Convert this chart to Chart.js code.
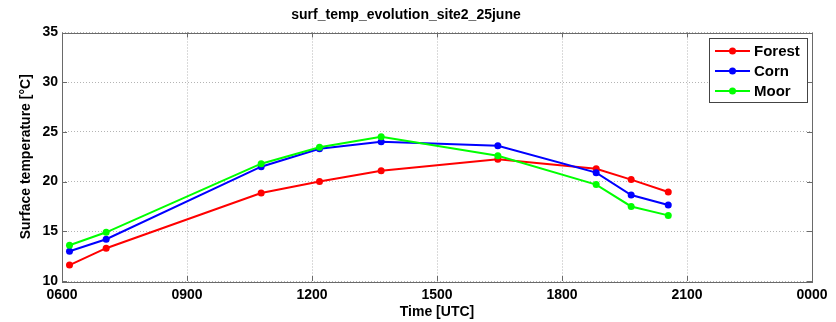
<!DOCTYPE html>
<html>
<head>
<meta charset="utf-8">
<script src="https://cdn.jsdelivr.net/npm/chart.js@4.4.0/dist/chart.umd.min.js"></script>
<style>
html,body{margin:0;padding:0;background:#fff;}
#wrap{width:836px;height:322px;}
</style>
</head>
<body>
<div id="wrap"><canvas id="c" width="836" height="322"></canvas></div>
<script>
const chartTitle = 'surf_temp_evolution_site2_25june';
const xTitle = 'Time [UTC]';
const yTitle = 'Surface temperature [°C]';
const xTickLabels = ['0600','0900','1200','1500','1800','2100','0000'];
const yTickLabels = ['10','15','20','25','30','35'];
const seriesNames = ['Forest','Corn','Moor'];
const seriesColors = ['#ff0000','#0000ff','#00ff00'];
const times = [6.18, 7.06, 10.78, 12.18, 13.66, 16.46, 18.82, 19.66, 20.55];
const forest = [11.6, 13.3, 18.85, 20.0, 21.1, 22.25, 21.3, 20.2, 18.95];
const corn = [13.0, 14.2, 21.5, 23.3, 24.0, 23.6, 20.9, 18.65, 17.65];
const moor = [13.6, 14.9, 21.8, 23.45, 24.5, 22.6, 19.7, 17.5, 16.6];

const seriesValues = [forest, corn, moor];
const FONT = '"Liberation Sans", Arial, Helvetica, sans-serif';

const datasets = seriesValues.map((vals, i) => ({
  label: seriesNames[i],
  data: vals.map((v, j) => ({x: times[j], y: v})),
  borderColor: seriesColors[i],
  backgroundColor: seriesColors[i],
  borderWidth: 2,
  pointRadius: 3.5,
  pointBorderWidth: 0,
  pointHoverRadius: 3.5,
  tension: 0,
  order: seriesNames.length - 1 - i
}));

const framePlugin = {
  id: 'frame',
  afterDatasetsDraw(chart) {
    const {ctx, chartArea: a, scales} = chart;
    ctx.save();
    ctx.strokeStyle = '#6a6a6a';
    ctx.lineWidth = 1;
    // inward tick marks
    ctx.beginPath();
    const tl = 5;
    scales.x.ticks.forEach(t => {
      const px = Math.round(scales.x.getPixelForValue(t.value)) + 0.5;
      ctx.moveTo(px, a.bottom); ctx.lineTo(px, a.bottom - tl);
      ctx.moveTo(px, a.top); ctx.lineTo(px, a.top + tl);
    });
    scales.y.ticks.forEach(t => {
      const py = Math.round(scales.y.getPixelForValue(t.value)) + 0.5;
      ctx.moveTo(a.left, py); ctx.lineTo(a.left + tl, py);
      ctx.moveTo(a.right, py); ctx.lineTo(a.right - tl, py);
    });
    ctx.stroke();
    ctx.strokeRect(Math.round(a.left) + 0.5, Math.round(a.top) + 0.5,
                   Math.round(a.right - a.left), Math.round(a.bottom - a.top));
    // legend
    const bx = 709.5, by = 38.5, bw = 98, bh = 64;
    ctx.fillStyle = '#fff';
    ctx.fillRect(bx, by, bw, bh);
    ctx.strokeStyle = '#444';
    ctx.strokeRect(bx, by, bw, bh);
    ctx.font = 'bold 15px ' + FONT;
    ctx.textBaseline = 'middle';
    ctx.textAlign = 'left';
    chart.data.datasets.forEach((ds, i) => {
      const y = 51 + i * 20;
      ctx.strokeStyle = ds.borderColor;
      ctx.lineWidth = 2;
      ctx.beginPath();
      ctx.moveTo(715, y); ctx.lineTo(750, y);
      ctx.stroke();
      ctx.fillStyle = ds.borderColor;
      ctx.beginPath();
      ctx.arc(732.5, y, 3.5, 0, Math.PI * 2);
      ctx.fill();
      ctx.fillStyle = '#000';
      ctx.fillText(ds.label, 754, y + 0.5);
    });
    ctx.restore();
  }
};

new Chart(document.getElementById('c'), {
  type: 'line',
  data: {datasets},
  plugins: [framePlugin],
  options: {
    responsive: false,
    animation: false,
    events: [],
    layout: {padding: {left: 0, right: 24, top: 0, bottom: 0}},
    plugins: {
      legend: {display: false},
      tooltip: {enabled: false},
      title: {
        display: true,
        text: chartTitle,
        color: '#000',
        font: {family: FONT, size: 14, weight: 'bold'},
        padding: {top: 7, bottom: 8.7}
      }
    },
    scales: {
      x: {
        type: 'linear',
        min: 6, max: 24,
        afterFit(s) { s.height = 41; },
        ticks: {
          stepSize: 3,
          autoSkip: false,
          maxRotation: 0,
          padding: 6,
          color: '#000',
          font: {family: FONT, size: 14, weight: 'bold'},
          callback: (v) => xTickLabels[Math.round((v - 6) / 3)]
        },
        grid: {
          drawTicks: false,
          color: '#b4b4b4',
          lineWidth: 1
        },
        border: {display: false, dash: [1, 2]},
        title: {
          display: true,
          text: xTitle,
          color: '#000',
          font: {family: FONT, size: 14, weight: 'bold'},
          padding: {top: 0, bottom: 1}
        }
      },
      y: {
        type: 'linear',
        min: 10, max: 35,
        afterFit(s) { s.width = 62; },
        ticks: {
          stepSize: 5,
          padding: 4,
          color: '#000',
          font: {family: FONT, size: 14, weight: 'bold'},
          callback: (v) => yTickLabels[Math.round((v - 10) / 5)]
        },
        grid: {
          drawTicks: false,
          color: '#b4b4b4',
          lineWidth: 1
        },
        border: {display: false, dash: [1, 2]},
        title: {
          display: true,
          text: yTitle,
          color: '#000',
          font: {family: FONT, size: 14, weight: 'bold'},
          padding: {top: 18, bottom: 0}
        }
      }
    }
  }
});
</script>
</body>
</html>
